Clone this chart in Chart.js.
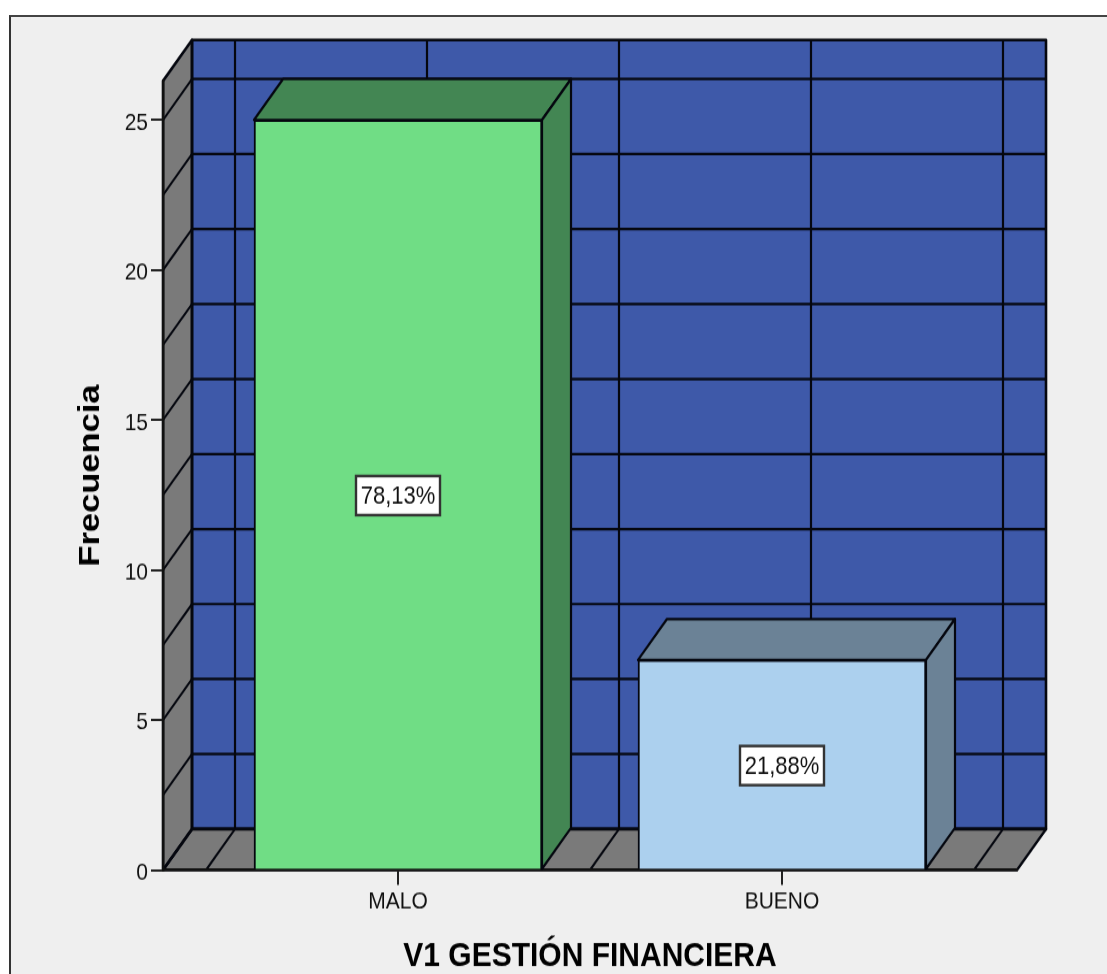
<!DOCTYPE html>
<html>
<head>
<meta charset="utf-8">
<script src="https://cdn.jsdelivr.net/npm/chart.js@4"></script>
<style>
html,body{margin:0;padding:0;background:#fff;width:1107px;height:974px;overflow:hidden}
#frame{position:absolute;left:9px;top:15px;width:1098px;height:959px;box-sizing:border-box;border-left:2px solid #333;border-top:2px solid #444;background:#efefef}
#c{position:absolute;left:0;top:0;transform:scaleY(1.15);transform-origin:0 0;filter:blur(0.6px)}
</style>
</head>
<body>
<div id="frame"></div>
<canvas id="c" width="1107" height="847"></canvas>
<script>
const categories = ["MALO", "BUENO"];
const frequencies = [25, 7];
const percentLabels = ["78,13%", "21,88%"];
const yTickStep = 5;
const yGridValues = [0, 2.5, 5, 7.5, 10, 12.5, 15, 17.5, 20, 22.5, 25];
const xGridValues = [-0.5, 0, 0.5, 1, 1.5];
const faceColors = ["#70dd85", "#acd0ee"];
const topColors = ["#438653", "#6b8296"];
const sideColors = ["#438653", "#6b8296"];

const DX = 29, DY = -35.6;
const LINE = "#05070f";

function poly(ctx, pts, fill, stroke, lw) {
  ctx.beginPath();
  pts.forEach((p, i) => i ? ctx.lineTo(p[0], p[1]) : ctx.moveTo(p[0], p[1]));
  ctx.closePath();
  if (fill) { ctx.fillStyle = fill; ctx.fill(); }
  if (stroke) { ctx.strokeStyle = stroke; ctx.lineWidth = lw; ctx.lineJoin = "round"; ctx.stroke(); }
}
function seg(ctx, x1, y1, x2, y2, lw) {
  ctx.beginPath(); ctx.moveTo(x1, y1); ctx.lineTo(x2, y2);
  ctx.strokeStyle = LINE; ctx.lineWidth = lw; ctx.stroke();
}

let labelsNudged = false;
const room = {
  id: "room",
  beforeDraw(chart) {
    const { ctx, chartArea: a, scales: { x, y } } = chart;
    const L = a.left, R = a.right, T = a.top, B = a.bottom;
    if (!labelsNudged) {
      y.getLabelItems().forEach(it => { it.options.translation[1] += 2.6; });
      labelsNudged = true;
    }
    ctx.save();
    poly(ctx, [[L + DX, T + DY], [R + DX, T + DY], [R + DX, B + DY], [L + DX, B + DY]], "#3e59a9");
    poly(ctx, [[L, B], [L, T], [L + DX, T + DY], [L + DX, B + DY]], "#7a7a7a");
    poly(ctx, [[L, B], [L + DX, B + DY], [R + DX, B + DY], [R, B]], "#7a7a7a");
    yGridValues.forEach(v => {
      const py = y.getPixelForValue(v);
      seg(ctx, L + DX, py + DY, R + DX, py + DY, 2.2);
      seg(ctx, L, py, L + DX, py + DY, 2);
    });
    xGridValues.forEach(v => {
      const px = x.getPixelForValue(v);
      seg(ctx, px + DX, T + DY, px + DX, B + DY, 2.2);
      seg(ctx, px, B, px + DX, B + DY, 2);
    });
    poly(ctx, [[L + DX, T + DY], [R + DX, T + DY], [R + DX, B + DY], [L + DX, B + DY]], null, LINE, 2.6);
    poly(ctx, [[L, B], [L, T], [L + DX, T + DY], [L + DX, B + DY]], null, LINE, 2.6);
    poly(ctx, [[L, B], [L + DX, B + DY], [R + DX, B + DY], [R, B]], null, LINE, 2.4);
    ctx.restore();
  },
  beforeDatasetsDraw(chart) {
    const { ctx } = chart;
    ctx.save();
    chart.getDatasetMeta(0).data.forEach((bar, i) => {
      const l = bar.x - bar.width / 2, r = bar.x + bar.width / 2, t = bar.y, b = bar.base;
      poly(ctx, [[l, t], [l + DX, t + DY], [r + DX, t + DY], [r, t]], topColors[i], LINE, 2.2);
      poly(ctx, [[r, t], [r + DX, t + DY], [r + DX, b + DY], [r, b]], sideColors[i], LINE, 2.2);
    });
    ctx.restore();
  },
  afterDatasetsDraw(chart) {
    const { ctx } = chart;
    ctx.save();
    ctx.font = "22px 'Liberation Sans'";
    ctx.textAlign = "center";
    ctx.textBaseline = "middle";
    chart.getDatasetMeta(0).data.forEach((bar, i) => {
      const cy = (bar.y + bar.base) / 2 + 1, w = 84, h = 34;
      ctx.fillStyle = "#fff";
      ctx.strokeStyle = "#333";
      ctx.lineWidth = 2.4;
      ctx.fillRect(bar.x - w / 2, cy - h / 2, w, h);
      ctx.strokeRect(bar.x - w / 2, cy - h / 2, w, h);
      ctx.fillStyle = "#111";
      ctx.fillText(percentLabels[i], bar.x, cy + 1.5);
    });
    ctx.restore();
  }
};

Chart.defaults.font.family = "'Liberation Sans'";

new Chart(document.getElementById("c"), {
  type: "bar",
  plugins: [room],
  data: {
    datasets: [{
      label: "Frecuencia",
      data: categories.map((c, i) => ({ x: i, y: frequencies[i] })),
      backgroundColor: faceColors,
      borderColor: LINE,
      borderWidth: 2,
      barThickness: 288
    }]
  },
  options: {
    responsive: false,
    animation: false,
    devicePixelRatio: 1,
    layout: { padding: { top: 70.4, right: 90, left: 0, bottom: 0 } },
    plugins: { legend: { display: false }, tooltip: { enabled: false }, title: { display: false } },
    scales: {
      x: {
        type: "linear",
        offset: false,
        min: -0.612,
        max: 1.612,
        afterBuildTicks: ax => { ax.ticks = categories.map((c, i) => ({ value: i })); },
        afterFit: ax => { ax.height = 90.5; },
        grid: { offset: false, drawOnChartArea: false, drawTicks: true, tickLength: 13, tickColor: "#222", lineWidth: 2 },
        border: { display: true, color: "#111", width: 2.4 },
        ticks: {
          autoSkip: false, maxRotation: 0, includeBounds: false, padding: 2.5,
          color: "#111", font: { size: 21 },
          callback: v => categories[v]
        },
        title: {
          display: true, text: "V1 GESTIÓN FINANCIERA", color: "#000",
          font: { size: 30, weight: "bold", lineHeight: 1 }, padding: { top: 0, bottom: 0 }
        }
      },
      y: {
        min: 0,
        max: 26.3,
        afterFit: ax => { ax.width = 163; },
        grid: { drawOnChartArea: false, drawTicks: true, tickLength: 12, tickColor: "#222", lineWidth: 2 },
        border: { display: true, color: "#111", width: 2.4 },
        ticks: {
          stepSize: yTickStep, includeBounds: false, padding: 3,
          color: "#111", font: { size: 21 }
        },
        title: {
          display: true, text: "Frecuencia", color: "#000",
          font: { size: 30, weight: "bold", lineHeight: 1 }, padding: { top: 76, bottom: 0 }
        }
      }
    }
  }
});
</script>
</body>
</html>
